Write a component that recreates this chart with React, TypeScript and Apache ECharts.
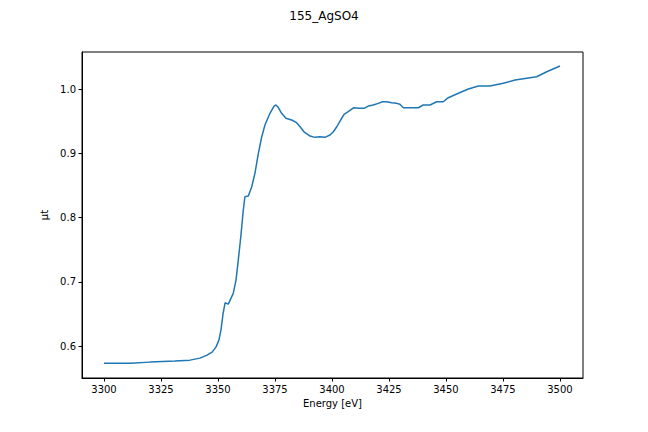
import React, { useEffect, useRef } from "react";
import * as echarts from "echarts";

const title = "155_AgSO4";
const xLabel = "Energy [eV]";
const yLabel = "μt";

const energy = [
  3300, 3311.4, 3320.2, 3331.1, 3337.7, 3342.1, 3345.2, 3347.4, 3349.1, 3350.4,
  3351.3, 3352.2, 3353.1, 3354.5, 3356.7, 3357.9, 3358.9, 3360.0, 3361.1, 3361.8,
  3363.3, 3364.8, 3366.2, 3367.7, 3369.2, 3370.6, 3372.8, 3374.6, 3375.4, 3376.4,
  3377.9, 3379.8, 3382.3, 3384.5, 3386.0, 3387.7, 3390.4, 3392.5, 3394.7, 3396.9,
  3399.1, 3400.6, 3402.1, 3403.8, 3405.3, 3407.1, 3409.6, 3412.0, 3414.0, 3415.9,
  3418.1, 3420.3, 3422.2, 3424.0, 3426.2, 3428.4, 3429.8, 3431.3, 3434.2, 3437.9,
  3440.0, 3443.0, 3445.9, 3448.8, 3451.0, 3454.7, 3459.8, 3464.2, 3469.3, 3475.1,
  3480.3, 3489.8, 3494.2, 3500,
];
const mu = [
  0.5735, 0.5735, 0.5751, 0.5767, 0.5782, 0.5813, 0.586, 0.5907, 0.5984, 0.6093,
  0.6249, 0.6498, 0.6674, 0.6654, 0.682, 0.7027, 0.7339, 0.7701, 0.8117, 0.8324,
  0.8335, 0.8479, 0.8688, 0.8999, 0.9258, 0.944, 0.9622, 0.9735, 0.9751, 0.9715,
  0.9622, 0.9544, 0.9518, 0.9476, 0.9413, 0.9335, 0.9268, 0.9248, 0.9258, 0.9248,
  0.9284, 0.9335, 0.9413, 0.9518, 0.9606, 0.9647, 0.9709, 0.9699, 0.9699, 0.9735,
  0.9751, 0.9777, 0.9802, 0.9802, 0.9787, 0.9777, 0.9762, 0.9708, 0.9709, 0.9709,
  0.9751, 0.9751, 0.9802, 0.9802, 0.9865, 0.9922, 1.0, 1.0047, 1.0047, 1.0089,
  1.014, 1.0191, 1.0269, 1.0358,
];

const xTicks = [3300, 3325, 3350, 3375, 3400, 3425, 3450, 3475, 3500];
const yTicks = [0.6, 0.7, 0.8, 0.9, 1.0];

const FONT = "DejaVu Sans";

export default function App() {
  const ref = useRef<HTMLDivElement>(null);
  useEffect(() => {
    if (!ref.current) return;
    const chart = echarts.init(ref.current, null, { renderer: "svg" });
    const data = energy.map((e, i) => [e, mu[i]]);
    chart.setOption({
      animation: false,
      backgroundColor: "#ffffff",
      title: {
        text: title,
        left: "center",
        top: 5,
        textStyle: { fontFamily: FONT, fontSize: 12, fontWeight: "normal", color: "#000" },
      },
      grid: {
        left: 82,
        right: 65,
        top: 52,
        bottom: 54,
        show: true,
        borderColor: "#000",
        borderWidth: 1,
        backgroundColor: "transparent",
      },
      xAxis: {
        type: "value",
        min: 3290.35,
        max: 3510.1,
        name: xLabel,
        nameLocation: "middle",
        nameGap: 20,
        nameTextStyle: { fontFamily: FONT, fontSize: 10, color: "#000" },
        splitLine: { show: false },
        axisLine: { show: true, onZero: false, lineStyle: { color: "#000", width: 1 } },
        axisTick: { show: true, length: 3.5, customValues: xTicks, lineStyle: { color: "#000" } },
        axisLabel: {
          customValues: xTicks,
          fontFamily: FONT,
          fontSize: 10,
          color: "#000",
          margin: 6,
          formatter: (v: number) => String(v),
        },
      },
      yAxis: {
        type: "value",
        min: 0.5504,
        max: 1.0576,
        name: yLabel,
        nameLocation: "middle",
        nameRotate: 90,
        nameGap: 30,
        nameTextStyle: { fontFamily: FONT, fontSize: 10, color: "#000" },
        splitLine: { show: false },
        axisLine: { show: true, onZero: false, lineStyle: { color: "#000", width: 1 } },
        axisTick: { show: true, length: 3.5, customValues: yTicks, lineStyle: { color: "#000" } },
        axisLabel: {
          customValues: yTicks,
          fontFamily: FONT,
          fontSize: 10,
          color: "#000",
          margin: 6,
          formatter: (v: number) => v.toFixed(1),
        },
      },
      series: [
        {
          type: "line",
          data,
          showSymbol: false,
          smooth: false,
          lineStyle: { color: "#1f77b4", width: 1.5 },
          itemStyle: { color: "#1f77b4" },
        },
      ],
    });
    return () => chart.dispose();
  }, []);
  return <div ref={ref} style={{ width: 648, height: 432, position: "absolute", left: 0, top: 0 }} />;
}
